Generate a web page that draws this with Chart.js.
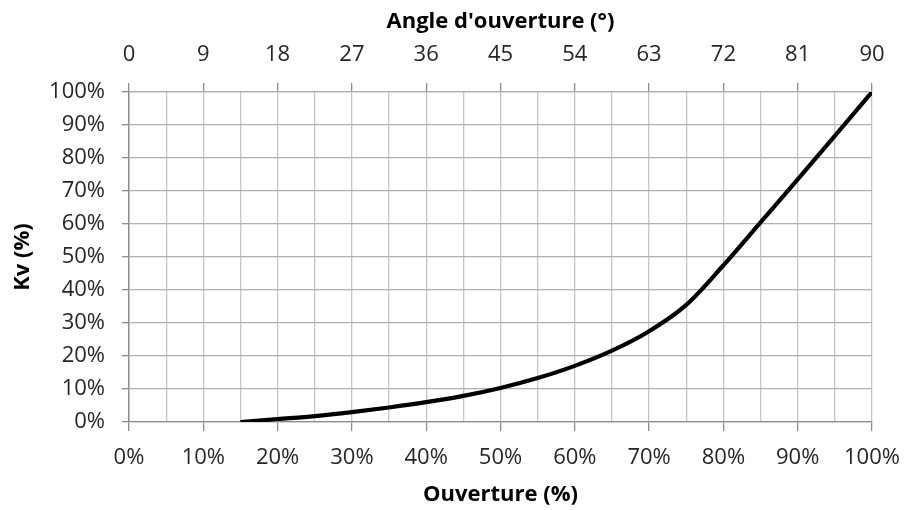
<!DOCTYPE html>
<html>
<head>
<meta charset="utf-8">
<script src="https://cdn.jsdelivr.net/npm/chart.js@4.4.1/dist/chart.umd.min.js"></script>
<style>
html,body{margin:0;padding:0;background:#fff;}
#wrap{width:920px;height:510px;position:relative;}
</style>
</head>
<body>
<div id="wrap"><canvas id="c" width="920" height="510"></canvas></div>
<script>
// Data
const opening = [15, 20, 25, 30, 35, 40, 45, 50, 55, 60, 65, 70, 75, 80, 85, 90, 95, 100]; // Ouverture (%)
const kv      = [0, 0.9, 1.8, 3.0, 4.4, 6.0, 7.9, 10.3, 13.3, 17.0, 21.6, 27.5, 35.5, 47.5, 60.5, 73.5, 86.7, 100]; // Kv (%)
const angleTicks = [0, 9, 18, 27, 36, 45, 54, 63, 72, 81, 90]; // Angle d'ouverture (°)
const pctTicks = [0, 10, 20, 30, 40, 50, 60, 70, 80, 90, 100];

const points = opening.map((x, i) => ({x: x, y: kv[i]}));

const FONT = "'Open Sans', 'Liberation Sans', sans-serif";
const tickFont = {family: FONT, size: 22};
const titleFont = {family: FONT, size: 22, weight: 'bold'};
const TICK = '#262626';
const AXIS = '#8c8c8c';

new Chart(document.getElementById('c'), {
  type: 'line',
  data: {
    datasets: [{
      data: points,
      borderColor: '#000000',
      borderWidth: 4.2,
      pointRadius: 0,
      cubicInterpolationMode: 'monotone',
      xAxisID: 'x',
      yAxisID: 'y'
    }]
  },
  options: {
    responsive: false,
    animation: false,
    layout: {padding: {right: 48, left: 0, top: 0, bottom: 0}},
    plugins: {legend: {display: false}, tooltip: {enabled: false}},
    scales: {
      x: {
        type: 'linear', position: 'bottom', min: 0, max: 100,
        afterFit: s => { s.height = 88; },
        afterBuildTicks: s => { s.ticks = []; for (let v = 0; v <= 100; v += 5) s.ticks.push({value: v}); },
        ticks: {
          autoSkip: false, maxRotation: 0, padding: 14, color: TICK, font: tickFont,
          callback: v => (pctTicks.includes(v) ? v + '%' : '')
        },
        grid: {
          color: ctx => (ctx.tick && ctx.tick.value === 0) ? AXIS : '#c6c6c6',
          lineWidth: 1.3,
          tickLength: 9,
          tickColor: ctx => (ctx.tick && ctx.tick.value % 10 === 0) ? AXIS : 'rgba(0,0,0,0)'
        },
        border: {color: AXIS, width: 1.3},
        title: {display: true, text: 'Ouverture (%)', color: '#000', font: titleFont, padding: {top: 0, bottom: 2}}
      },
      x2: {
        type: 'linear', position: 'top', min: 0, max: 90,
        afterFit: s => { s.height = 92; },
        afterBuildTicks: s => { s.ticks = angleTicks.map(v => ({value: v})); },
        ticks: {autoSkip: false, maxRotation: 0, padding: 15, color: TICK, font: tickFont},
        grid: {drawOnChartArea: false, tickLength: 9, tickColor: AXIS, lineWidth: 1.3},
        border: {color: '#b0b0b0', width: 1.3},
        title: {display: true, text: "Angle d'ouverture (°)", color: '#000', font: titleFont, padding: {top: 9, bottom: 0}}
      },
      y: {
        type: 'linear', position: 'left', min: 0, max: 100,
        afterFit: s => { s.width = 129; },
        afterBuildTicks: s => { s.ticks = pctTicks.map(v => ({value: v})); },
        ticks: {autoSkip: false, padding: 17, color: TICK, font: tickFont, callback: v => v + '%'},
        grid: {color: '#b0b0b0', lineWidth: 1.3, tickLength: 7, tickColor: AXIS},
        border: {color: AXIS, width: 1.3},
        title: {display: true, text: 'Kv (%)', color: '#000', font: titleFont, padding: {top: 10, bottom: 0}}
      }
    }
  }
});
</script>
</body>
</html>
